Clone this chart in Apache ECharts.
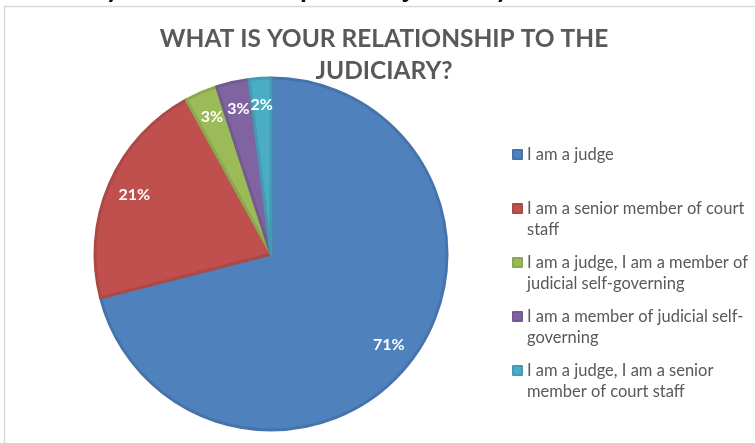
<!DOCTYPE html>
<html>
<head>
<meta charset="utf-8">
<script src="https://cdn.jsdelivr.net/npm/echarts@6/dist/echarts.min.js"></script>
<style>
  html, body { margin: 0; padding: 0; background: #fff; }
  #chart { width: 755px; height: 443px; }
</style>
</head>
<body>
<div id="chart"></div>
<script>
// Survey answers: share of respondents (%)
const categories = [
  'I am a judge',
  'I am a senior member of court staff',
  'I am a judge, I am a member of judicial self-governing',
  'I am a member of judicial self-governing',
  'I am a judge, I am a senior member of court staff'
];
const shares = [71, 21, 3, 3, 2];
// Legend text as it wraps on the right-hand side (leading blank line keeps
// the colour swatch level with the first text line)
const legendText = [
  '\nI am a judge\n ',
  '\nI am a senior member of court\nstaff',
  '\nI am a judge, I am a member of\njudicial self-governing',
  '\nI am a member of judicial self-\ngoverning',
  '\nI am a judge, I am a senior\nmember of court staff'
];
const sliceColors = ['#4f81bd', '#c0504d', '#9bbb59', '#8064a2', '#4bacc6'];
const edgeColors  = ['#4674aa', '#ad4845', '#8ba84f', '#735a92', '#439ab2'];
const titleText = 'WHAT IS YOUR RELATIONSHIP TO THE\nJUDICIARY?';
const headingText = 'What is your relationship to the judiciary';

const FONT = 'Lato, "Open Sans", sans-serif';
const chart = echarts.init(document.getElementById('chart'), null, { renderer: 'canvas' });

const sliceData = categories.map((name, i) => ({
  name,
  value: shares[i],
  itemStyle: { color: sliceColors[i], borderColor: edgeColors[i] }
}));

chart.setOption({
  animation: false,
  backgroundColor: '#ffffff',
  graphic: [
    {
      type: 'rect',
      shape: { x: 4.5, y: 6.5, width: 900, height: 600 },
      style: { fill: 'none', stroke: '#d9d9d9', lineWidth: 1.5 },
      silent: true
    },
    {
      // page heading above the chart box, mostly cut off by the top edge
      type: 'text',
      left: 3,
      top: -26,
      style: {
        text: headingText,
        font: 'bold 28px ' + FONT,
        fill: '#111111'
      },
      silent: true
    }
  ],
  title: {
    text: titleText,
    left: 379,
    top: 18,
    textAlign: 'center',
    textStyle: {
      fontFamily: FONT,
      fontSize: 24.5,
      fontWeight: 'bold',
      color: '#595959',
      lineHeight: 32
    }
  },
  legend: {
    orient: 'vertical',
    left: 512,
    top: 123,
    padding: 0,
    itemWidth: 9,
    itemHeight: 9,
    itemGap: -9,
    icon: 'rect',
    data: categories,
    formatter: name => legendText[categories.indexOf(name)],
    textStyle: {
      fontFamily: FONT,
      fontSize: 16.5,
      color: '#595959',
      lineHeight: 21
    }
  },
  series: [
    {
      type: 'pie',
      center: [271, 254],
      radius: 176,
      startAngle: 90,
      clockwise: true,
      itemStyle: { borderWidth: 3 },
      label: { show: false },
      labelLine: { show: false },
      emphasis: { disabled: true },
      data: sliceData
    },
    {
      // transparent ring used only to place the percentage labels near the rim
      type: 'pie',
      center: [271, 254],
      radius: [116, 176],
      startAngle: 90,
      clockwise: true,
      silent: true,
      itemStyle: { color: 'rgba(0,0,0,0)', borderWidth: 0 },
      label: {
        show: true,
        position: 'inside',
        formatter: p => p.value + '%',
        fontFamily: FONT,
        fontSize: 16,
        fontWeight: 'bold',
        color: '#ffffff'
      },
      labelLine: { show: false },
      emphasis: { disabled: true },
      data: categories.map((name, i) => ({ name, value: shares[i] }))
    }
  ]
});
</script>
</body>
</html>
